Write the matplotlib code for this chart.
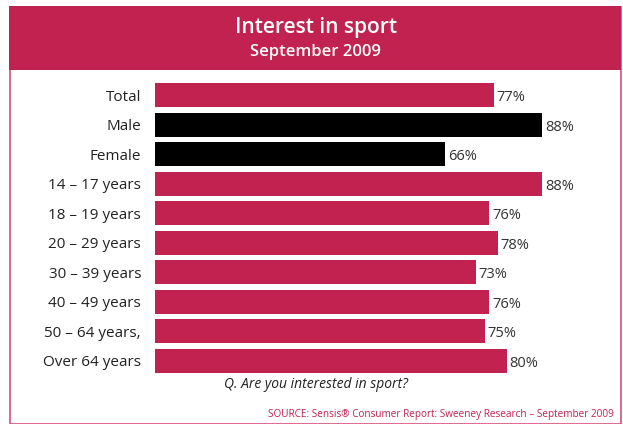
"""Horizontal bar chart: interest in sport by demographic group."""

import matplotlib.pyplot as plt
from matplotlib.patches import Rectangle

CRIMSON = "#c1224f"
BORDER = "#d9507a"

categories = [
    "Total", "Male", "Female", "14 – 17 years", "18 – 19 years",
    "20 – 29 years", "30 – 39 years", "40 – 49 years", "50 – 64 years,",
    "Over 64 years",
]
values = [77, 88, 66, 88, 76, 78, 73, 76, 75, 80]
is_gender = [False, True, True, False, False, False, False, False, False, False]

plt.rcParams["font.family"] = ["Open Sans", "DejaVu Sans"]

W, H = 623, 424
fig = plt.figure(figsize=(W / 100, H / 100), dpi=100)

# Frame and header band drawn in figure pixel coordinates
def px_rect(x0, y0, x1, y1, **kw):
    return Rectangle((x0 / W, 1 - y1 / H), (x1 - x0) / W, (y1 - y0) / H,
                     transform=fig.transFigure, zorder=-1, **kw)

fig.patches.append(px_rect(9.5, 6.5, 620.5, 423.5, facecolor="none",
                           edgecolor=BORDER, linewidth=1.2))
fig.patches.append(px_rect(9, 6, 621, 70, facecolor=CRIMSON, edgecolor="none"))

fig.text(316 / W, 1 - 28 / H, "Interest in sport", color="white",
         ha="center", va="center", fontsize=15, fontweight="semibold")
fig.text(316 / W, 1 - 52 / H, "September 2009", color="white",
         ha="center", va="center", fontsize=12, fontweight="semibold")

# Bar area: 0% at x=155px, 100% at x=595px
top_px, bottom_px = 80.5, 375.5
ax = fig.add_axes([155 / W, 1 - bottom_px / H, 440 / W, (bottom_px - top_px) / H])
ax.set_xlim(0, 100)
ax.set_ylim(len(categories) - 0.5, -0.5)

colors = ["black" if g else CRIMSON for g in is_gender]
ypos = list(range(len(categories)))
ax.barh(ypos, values, height=0.8, color=colors)

for y, v in zip(ypos, values):
    ax.text(v + 0.6, y + 0.08, f"{v}%", ha="left", va="center",
            fontsize=10.5, color="#333333")

ax.set_yticks(ypos)
ax.set_yticklabels(categories, fontsize=11, color="#222222")
ax.tick_params(axis="y", length=0, pad=10)
ax.set_xticks([])
for s in ax.spines.values():
    s.set_visible(False)
ax.patch.set_visible(False)

fig.text(316 / W, 1 - 385 / H, "Q. Are you interested in sport?",
         ha="center", va="center", fontsize=10, style="italic", color="#222222")
fig.text(614 / W, 1 - 414 / H,
         "SOURCE: Sensis® Consumer Report: Sweeney Research – September 2009",
         ha="right", va="center", fontsize=7.2, color=CRIMSON)

fig.savefig("out.png", dpi=100)
